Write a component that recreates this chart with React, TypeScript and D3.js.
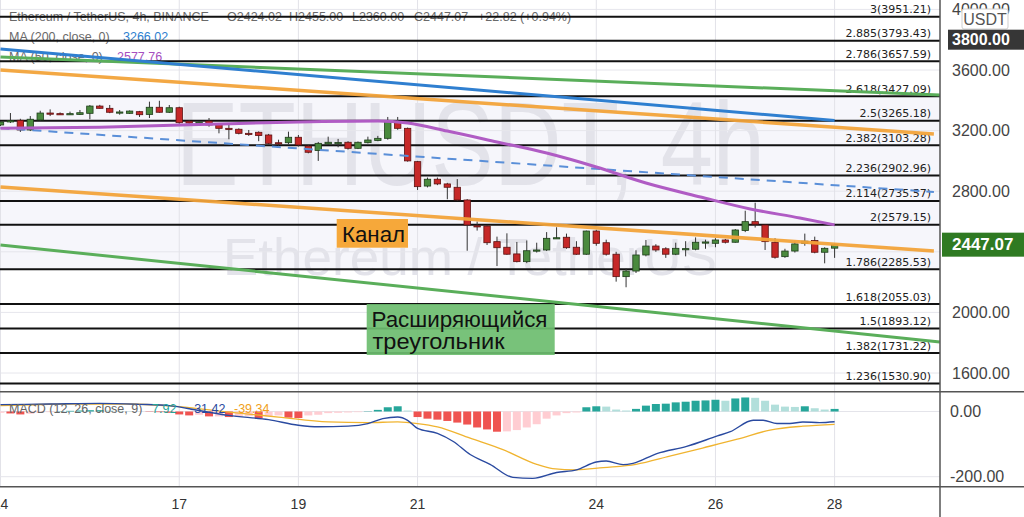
import React from "react";
import * as d3 from "d3";

// ---- candle data (4h candles, index 0 = 14th 00:00, index 84 = 28th 00:00)
const opens = [
  3237, 3257, 3268, 3204, 3270, 3316, 3312, 3310, 3307, 3314,
  3362, 3347, 3321, 3314, 3325, 3307, 3354, 3321, 3351, 3262,
  3250, 3263, 3241, 3215, 3209, 3182, 3189, 3171, 3120, 3120,
  3156, 3098, 3068, 3112, 3120, 3123, 3083, 3120, 3134, 3149,
  3259, 3215, 2995, 2834, 2879, 2848, 2826, 2742, 2572, 2570,
  2467, 2430, 2386, 2335, 2408, 2412, 2489, 2496, 2430, 2384,
  2537, 2460, 2384, 2236, 2273, 2379, 2438, 2420, 2384, 2420,
  2417, 2463, 2456, 2478, 2463, 2540, 2599, 2577, 2463, 2368,
  2405, 2456, 2474, 2397, 2424.02,
];
const highs = [
  3262, 3316, 3278, 3296, 3331, 3340, 3320, 3325, 3336, 3369,
  3370, 3369, 3336, 3333, 3330, 3391, 3397, 3369, 3358, 3268,
  3262, 3283, 3245, 3237, 3215, 3204, 3195, 3178, 3140, 3193,
  3171, 3105, 3125, 3160, 3145, 3130, 3128, 3160, 3165, 3290,
  3290, 3220, 3000, 2890, 2890, 2855, 2880, 2748, 2600, 2578,
  2500, 2522, 2465, 2475, 2460, 2530, 2562, 2520, 2470, 2540,
  2545, 2480, 2400, 2290, 2410, 2478, 2450, 2430, 2460, 2470,
  2495, 2480, 2490, 2485, 2550, 2671, 2724, 2580, 2490, 2420,
  2470, 2520, 2500, 2430, 2455,
];
const lows = [
  3230, 3250, 3191, 3197, 3265, 3296, 3305, 3304, 3303, 3275,
  3345, 3315, 3305, 3310, 3290, 3283, 3318, 3316, 3245, 3245,
  3244, 3226, 3182, 3143, 3175, 3165, 3130, 3110, 3100, 3110,
  3095, 3050, 3000, 3105, 3090, 3075, 3078, 3115, 3130, 3140,
  3205, 2995, 2808, 2825, 2840, 2747, 2735, 2407, 2540, 2445,
  2306, 2380, 2330, 2325, 2395, 2405, 2485, 2420, 2380, 2380,
  2440, 2375, 2203, 2166, 2260, 2370, 2400, 2360, 2378, 2370,
  2410, 2420, 2430, 2455, 2460, 2530, 2560, 2412, 2355, 2360,
  2395, 2440, 2390, 2324, 2360,
];
const closes = [
  3257, 3266, 3204, 3275, 3316, 3312, 3310, 3312, 3318, 3362,
  3347, 3321, 3323, 3329, 3305, 3354, 3321, 3351, 3252, 3250,
  3256, 3237, 3215, 3213, 3182, 3180, 3167, 3116, 3112, 3156,
  3105, 3057, 3116, 3123, 3121, 3083, 3123, 3138, 3149, 3265,
  3215, 3000, 2830, 2879, 2848, 2826, 2742, 2577, 2570, 2460,
  2427, 2384, 2335, 2407, 2412, 2489, 2493, 2427, 2384, 2537,
  2456, 2384, 2236, 2273, 2379, 2438, 2412, 2384, 2423, 2421,
  2463, 2465, 2478, 2463, 2544, 2599, 2582, 2467, 2364, 2405,
  2452, 2470, 2397, 2423, 2447.07,
];

// ---- fibonacci levels
const fibRatios = ["3", "2.885", "2.786", "2.618", "2.5", "2.382", "2.236", "2.114", "2", "1.786", "1.618", "1.5", "1.382", "1.236"];
const fibPrices = [3951.21, 3793.43, 3657.59, 3427.09, 3265.18, 3103.28, 2902.96, 2735.57, 2579.15, 2285.53, 2055.03, 1893.12, 1731.22, 1530.9];

// ---- axes
const priceTicks = [4000, 3600, 3200, 2800, 2000, 1600];
const priceGrid = [4000, 3600, 3200, 2800, 2400, 2000, 1600];
const dateLabels = ["14", "17", "19", "21", "24", "26", "28"];
const dateIdx = [0, 18, 30, 42, 60, 72, 84];
const macdTicks = [0, -200];

// ---- moving averages [index, price]
const ma200Pts = [[0, 3739], [84, 3266.02]];
const ma50Pts = [
  [0, 3215], [10, 3222], [20, 3240], [30, 3257], [38, 3263], [41, 3250], [45, 3197],
  [50, 3125], [55, 3052], [60, 2960], [65, 2854], [70.5, 2762], [75.5, 2683], [80.5, 2623], [84, 2577.76],
];

// ---- drawn trend lines [index, price]
const channelUpper = [[0, 3600], [94, 3178]];
const channelLower = [[0, 2828], [94, 2405]];
const midDashed = [[0, 3217], [94, 2795]];
const triangleUpper = [[0, 3686], [94.6, 3435]];
const triangleLower = [[0, 2445], [94.6, 1805]];

// ---- MACD
const macdPts = [
  [0, 21], [5, 23], [10, 25], [14, 22], [17, 18], [20, 3], [23, -12], [27, -25], [30, -42], [32, -47],
  [35, -45], [37, -37], [38.5, -22], [40, -17], [41, -27], [42, -52], [44, -67], [45.6, -92], [47.3, -132],
  [49.3, -162], [51.6, -202], [53.6, -205], [56, -187], [58, -179], [60, -155], [61, -152], [62.7, -163],
  [63.7, -159], [66.1, -129], [69.1, -107], [72.2, -75], [73.5, -62], [75.8, -27], [76.8, -27], [78.2, -37],
  [79.5, -37], [80.8, -32], [82.5, -34], [84, -31.42],
];
const signalPts = [
  [0, 18], [7, 23], [13, 23], [18, 15], [23, -2], [28, -17], [33, -32], [37, -34], [40, -32], [42, -37],
  [44, -47], [47.3, -82], [50.6, -117], [54, -162], [55.6, -175], [58, -179], [60.7, -172], [64, -162],
  [67.4, -137], [70.7, -112], [74.2, -85], [77.5, -57], [80.8, -45], [84, -39.34],
];
const hist = [
  -4, -6, -9, -7, -4, -2, 1, 2, 3, 4,
  4, 3, 2, 1, 0, -1, -2, -4, -9, -12,
  -10, -15, -15, -17, -16, -14, -22, -15, -12, -19,
  -20, -12, -10, -5, -4, -3, -2, 1, 5, 13,
  16, 3, -17, -22, -25, -29, -34, -40, -49, -55,
  -62, -61, -57, -49, -39, -22, -12, -5, -3, 13,
  16, 15, 6, 3, 8, 18, 23, 24, 28, 30,
  33, 34, 36, 33, 40, 43, 42, 33, 21, 15,
  14, 16, 10, 6, 7.92,
];

const FONT = "'Liberation Sans', Arial, sans-serif";

export default function App() {
  const R = 940;
  const x = d3.scaleLinear().domain([0, 84]).range([0.5, 834.6]);
  const y = d3.scaleLinear().domain([1600, 3600]).range([373, 70]);
  const ym = d3.scaleLinear().domain([-200, 0]).range([476.7, 411.5]);

  const straight = d3.line<number[]>().x((d) => x(d[0])).y((d) => y(d[1]));
  const smooth = d3.line<number[]>().x((d) => x(d[0])).y((d) => y(d[1])).curve(d3.curveMonotoneX);
  const msmooth = d3.line<number[]>().x((d) => x(d[0])).y((d) => ym(d[1])).curve(d3.curveMonotoneX);

  const bw = 6.4;
  const wm = "#e3e3ea";

  const histColor = (i: number) => {
    const v = hist[i];
    const p = i > 0 ? hist[i - 1] : v;
    if (v >= 0) return v >= p ? "#26a69a" : "#b2dfdb";
    return v < p ? "#ef5350" : "#ffcdd2";
  };

  return (
    <svg
      width={1024}
      height={517}
      style={{ position: "absolute", left: 0, top: 0 }}
      fontFamily={FONT}
    >
      <defs>
        <clipPath id="mainClip">
          <rect x={0} y={0} width={R} height={391} />
        </clipPath>
        <clipPath id="macdClip">
          <rect x={0} y={392} width={R} height={95} />
        </clipPath>
      </defs>
      <rect x={0} y={0} width={1024} height={517} fill="#ffffff" />

      {/* main pane */}
      <g clipPath="url(#mainClip)">
        <rect x={0} y={y(3427.09)} width={R} height={y(2285.53) - y(3427.09)} fill="#f6f6fb" />
        {/* watermark */}
        <text x={176} y={185} fontSize={119} fill={wm} textLength={589} lengthAdjust="spacingAndGlyphs">
          ETHUSDT, 4h
        </text>
        <text x={223} y={275} fontSize={52} fill={wm} textLength={494} lengthAdjust="spacingAndGlyphs">
          Ethereum / TetherUS
        </text>
        {/* grid */}
        {priceGrid.map((p) => (
          <line key={"pg" + p} x1={0} x2={R} y1={y(p)} y2={y(p)} stroke="#e6e6ec" strokeWidth={1} />
        ))}
        {dateIdx.map((d) => (
          <line key={"vg" + d} x1={x(d)} x2={x(d)} y1={0} y2={391} stroke="#e2e2e8" strokeWidth={1} />
        ))}

        {/* header */}
        <g fontSize={12.5} fill="#6a6a6a">
          <text x={9} y={21}>Ethereum / TetherUS, 4h, BINANCE</text>
          <text x={227} y={21}>O2424.02</text>
          <text x={289} y={21}>H2455.00</text>
          <text x={352} y={21}>L2360.00</text>
          <text x={414} y={21}>C2447.07</text>
          <text x={478} y={21}>+22.82 (+0.94%)</text>
          <text x={9} y={41}>MA (200, close, 0)</text>
          <text x={123} y={41} fill="#2f7fd0">3266.02</text>
          <text x={9} y={61}>MA (50, close, 0)</text>
          <text x={117} y={61} fill="#a64fc0">2577.76</text>
        </g>

        {/* fib lines */}
        {fibPrices.map((p, i) => (
          <g key={"fib" + i}>
            <line x1={0} x2={R} y1={y(p)} y2={y(p)} stroke="#111" strokeWidth={2} />
            <text
              x={931}
              y={y(p) - 3.5}
              textAnchor="end"
              fontSize={11}
              fontFamily="'DejaVu Sans', sans-serif"
              fill="#222"
            >
              {fibRatios[i]}({p.toFixed(2)})
            </text>
          </g>
        ))}

        {/* candles */}
        {opens.map((o, i) => {
          const c = closes[i];
          const up = c >= o;
          const top = y(Math.max(o, c));
          const bot = y(Math.min(o, c));
          const cx = x(i);
          return (
            <g key={"c" + i}>
              <line x1={cx} x2={cx} y1={y(highs[i])} y2={y(lows[i])} stroke="#333" strokeWidth={1} />
              <rect
                x={cx - bw / 2}
                y={top}
                width={bw}
                height={Math.max(1.2, bot - top)}
                fill={up ? "#4a8a3e" : "#c62828"}
                stroke={up ? "#1e3d1a" : "#5c1212"}
                strokeWidth={0.8}
              />
            </g>
          );
        })}

        {/* moving averages and trend lines */}
        <path d={straight(triangleUpper) || ""} stroke="#5aae5a" strokeWidth={3} fill="none" />
        <path d={straight(triangleLower) || ""} stroke="#5aae5a" strokeWidth={3} fill="none" />
        <path d={straight(ma200Pts) || ""} stroke="#2f7fd0" strokeWidth={3} fill="none" />
        <path d={straight(channelUpper) || ""} stroke="#f2a33a" strokeWidth={3.5} fill="none" opacity={0.95} />
        <path d={straight(channelLower) || ""} stroke="#f2a33a" strokeWidth={3.5} fill="none" opacity={0.95} />
        <path d={straight(midDashed) || ""} stroke="#5a8fd8" strokeWidth={2} strokeDasharray="9 7" fill="none" />
        <path d={smooth(ma50Pts) || ""} stroke="#b05cc4" strokeWidth={3} fill="none" />

        {/* annotation boxes */}
        <rect x={336.7} y={219} width={71.3} height={28.7} fill="#f6a83a" />
        <text x={342} y={241.5} fontSize={22} fill="#111" textLength={63} lengthAdjust="spacingAndGlyphs">
          Канал
        </text>
        <rect x={366.7} y={304} width={188} height={51} fill="#6dbd6f" opacity={0.92} />
        <text x={371.5} y={327} fontSize={22} fill="#111" textLength={176} lengthAdjust="spacingAndGlyphs">
          Расширяющийся
        </text>
        <text x={372.5} y={349} fontSize={22} fill="#111" textLength={132} lengthAdjust="spacingAndGlyphs">
          треугольник
        </text>
      </g>

      {/* MACD pane */}
      <g clipPath="url(#macdClip)">
        {dateIdx.map((d) => (
          <line key={"mvg" + d} x1={x(d)} x2={x(d)} y1={392} y2={487} stroke="#e2e2e8" strokeWidth={1} />
        ))}
        {macdTicks.map((t) => (
          <line key={"mg" + t} x1={0} x2={R} y1={ym(t)} y2={ym(t)} stroke="#e4e4ea" strokeWidth={1} />
        ))}
        {hist.map((v, i) => (
          <rect
            key={"h" + i}
            x={x(i) - 4}
            y={Math.min(ym(v), ym(0))}
            width={8}
            height={Math.abs(ym(v) - ym(0))}
            fill={histColor(i)}
          />
        ))}
        <path d={msmooth(signalPts) || ""} stroke="#f0b430" strokeWidth={1.3} fill="none" />
        <path d={msmooth(macdPts) || ""} stroke="#2a4aa0" strokeWidth={1.4} fill="none" />
        <g fontSize={12.5}>
          <text x={9} y={413} fill="#666">MACD (12, 26, close, 9)</text>
          <text x={152} y={413} fill="#26a69a">7.92</text>
          <text x={190} y={413} fill="#2a4aa0">-31.42</text>
          <text x={234} y={413} fill="#f0a020">-39.34</text>
        </g>
      </g>

      {/* pane separators */}
      <line x1={0} x2={1024} y1={391.7} y2={391.7} stroke="#555" strokeWidth={1.5} />
      <line x1={0} x2={1024} y1={486.7} y2={486.7} stroke="#555" strokeWidth={1.5} />
      <line x1={R} x2={R} y1={0} y2={517} stroke="#555" strokeWidth={1.5} />

      {/* price axis */}
      <g fontSize={16} fill="#444">
        {priceTicks.map((p) => (
          <text key={"pt" + p} x={952} y={y(p)} dominantBaseline="central">
            {p.toFixed(2)}
          </text>
        ))}
        {macdTicks.map((t) => (
          <text key={"mt" + t} x={950} y={ym(t)} dominantBaseline="central">
            {t.toFixed(2)}
          </text>
        ))}
      </g>
      <rect x={962} y={9} width={46} height={20} rx={2} fill="#fff" stroke="#cfcfcf" />
      <text x={985} y={19.5} fontSize={16} fill="#555" textAnchor="middle" dominantBaseline="central">
        USDT
      </text>
      <rect x={948} y={y(3800) - 10} width={76} height={20} fill="#363636" />
      <text x={952} y={y(3800)} fontSize={16} fontWeight="bold" fill="#fff" dominantBaseline="central">
        3800.00
      </text>
      <rect x={942} y={y(closes[84]) - 12} width={82} height={24} fill="#2f7a22" />
      <text x={952} y={y(closes[84])} fontSize={17} fontWeight="bold" fill="#fff" dominantBaseline="central">
        {closes[84].toFixed(2)}
      </text>

      {/* date axis */}
      <g fontSize={14} fill="#333" textAnchor="middle">
        {dateIdx.map((d, i) => (
          <text key={"dl" + d} x={x(d)} y={509}>
            {dateLabels[i]}
          </text>
        ))}
      </g>
    </svg>
  );
}
